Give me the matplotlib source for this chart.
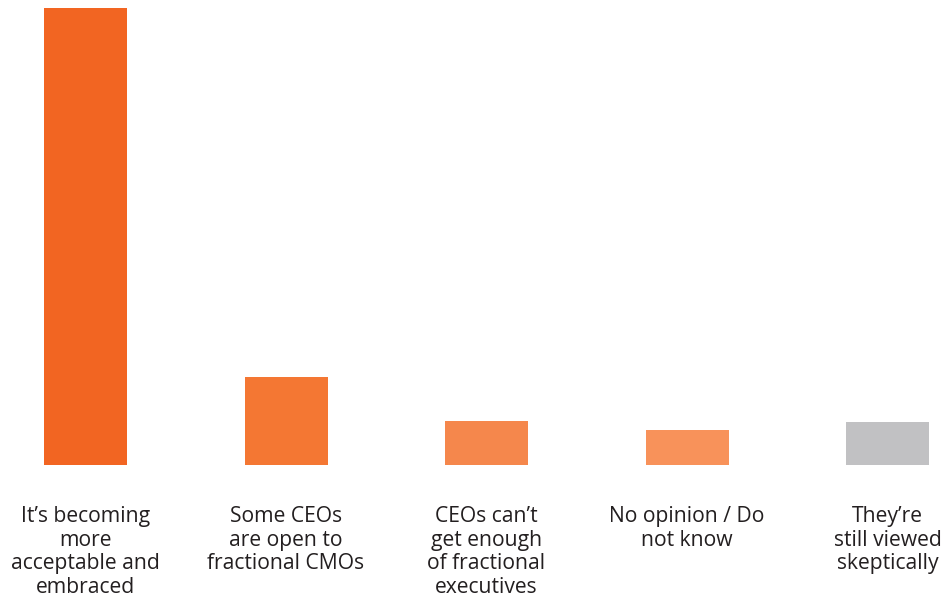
import matplotlib
matplotlib.use('Agg')
import matplotlib.pyplot as plt

categories = [
    'It\u2019s becoming\nmore\nacceptable and\nembraced',
    'Some CEOs\nare open to\nfractional CMOs',
    'CEOs can\u2019t\nget enough\nof fractional\nexecutives',
    'No opinion / Do\nnot know',
    'They\u2019re\nstill viewed\nskeptically',
]
values = [68.5, 13.2, 6.6, 5.2, 6.4]
colors = ['#F26522', '#F47733', '#F5874C', '#F8925A', '#C1C1C3']

W, H = 941, 597
fig = plt.figure(figsize=(W / 100, H / 100), dpi=100)
ax = fig.add_axes([0, (H - 465) / H, 1, 457 / H])

x = list(range(len(categories)))
ax.bar(x, values, width=83 / 200.5, color=colors)
ax.set_xlim(-85.5 / 200.5, 4 + (W - 887.5) / 200.5)
ax.set_ylim(0, values[0])

ax.set_xticks(x)
ax.set_xticklabels(categories, fontsize=15.2, family='Open Sans', color='#231F20',
                   linespacing=1.17)
ax.tick_params(axis='x', length=0, pad=29.5)
ax.set_yticks([])
for s in ax.spines.values():
    s.set_visible(False)

fig.savefig('out.png', dpi=100)
